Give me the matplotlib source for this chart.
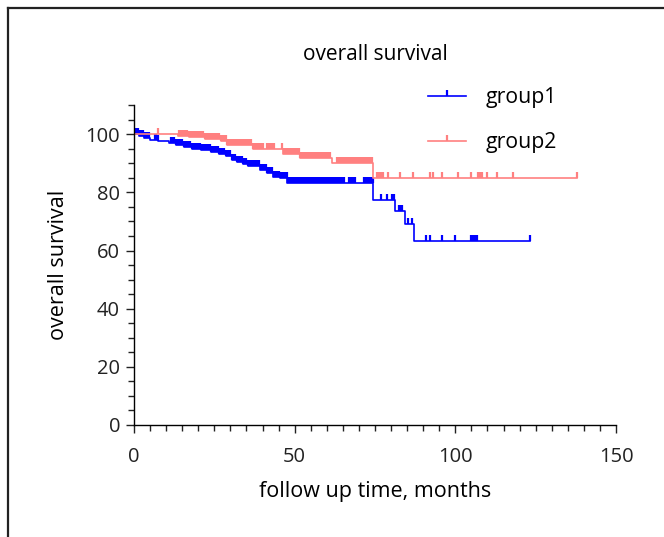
import numpy as np
import matplotlib.pyplot as plt
from matplotlib.lines import Line2D

plt.rcParams['font.family'] = ['Open Sans', 'DejaVu Sans']

# group1 (blue): event times (months) and survival (%) after each event
g1_times = [0, 1.5, 3, 5, 7.5, 11, 13, 15.5, 18, 21, 24, 26.5, 28.5, 30.5, 32, 34,
            35.5, 39.2, 41.4, 43.3, 45.4, 47.6, 74.5, 81.2, 84.3, 87.0]
g1_surv = [100, 99.4, 98.8, 98.2, 97.6, 96.9, 96.3, 95.7, 95.1, 94.5, 93.9, 93.2, 92.5,
           91.2, 90.5, 89.8, 89.0, 87.7, 86.6, 85.4, 84.8, 83.4, 77.4, 73.5, 69.0, 63.2]
g1_end = 123.3
g1_censor = [0.3, 0.8, 1.3, 1.8, 2.3, 2.8, 3.3, 3.8, 4.3, 4.8, 6.5, 7.0, 7.5,
             11.5, 12, 12.5, 13, 13.5, 14, 14.5, 15, 15.5, 16, 16.5, 17, 17.5, 18, 18.5,
             19, 19.5, 20, 20.5, 21, 21.5, 22, 22.5, 23, 23.5, 24, 24.5, 25, 25.5, 26,
             26.5, 27, 27.5, 28, 28.5, 29, 29.5, 30, 30.5, 31, 31.5, 32, 32.5, 33, 33.5,
             34, 34.5, 35, 35.5, 36, 36.5, 37, 37.5, 38, 38.5, 39, 39.5, 40, 40.5, 41,
             41.5, 42, 42.5, 43, 43.5, 44, 44.5, 45, 45.5, 46, 46.5, 47, 47.5, 48, 48.5,
             49, 49.5, 50, 50.5, 51, 51.5, 52, 52.5, 53, 53.5, 54, 54.5, 55, 55.5, 56,
             56.5, 57, 57.5, 58, 58.5, 59, 59.5, 60, 60.5, 61, 61.5, 62, 62.5, 63, 63.5,
             64, 64.5, 65, 65.4, 66.8, 67.3, 67.8, 68.3, 68.8, 71.5, 72, 72.5, 73, 73.5,
             74, 74.3, 76.9, 78.7, 80.3, 80.8, 82.5, 83.0, 83.5, 85.3, 86.5, 90.9, 92.1,
             95.9, 99.9, 104.9, 105.4, 105.8, 106.3, 106.8, 123.3]

# group2 (pink)
g2_times = [0, 13.7, 17, 22, 27, 29, 37, 46.5, 51.7, 61.5, 74.5]
g2_surv = [100, 99.4, 99.0, 98.4, 97.6, 96.4, 95.0, 93.1, 92.0, 90.2, 85.0]
g2_end = 138
g2_censor = [7.5, 14, 14.5, 15, 15.5, 16, 16.5, 17, 17.5, 18, 18.5, 19, 19.5, 20,
             20.5, 21, 21.5, 22, 22.5, 23, 23.5, 24, 24.5, 25, 25.5, 26, 26.5, 27, 27.5,
             28, 28.5, 29, 29.5, 30, 30.5, 31, 31.5, 32, 32.5, 33, 33.5, 34, 34.5, 35,
             35.5, 36, 36.5, 37, 37.5, 38, 38.5, 39, 39.5, 40, 41.5, 42, 42.5, 43, 43.5,
             46.2, 46.7, 47.2, 47.7, 48.2, 48.7, 49.2, 49.7, 50.2, 50.7, 51.2, 51.7, 52.2,
             52.7, 53.2, 53.7, 54.2, 54.7, 55.2, 55.7, 56.2, 56.7, 57.2, 57.7, 58.2, 58.7,
             59.2, 59.7, 60.2, 60.7, 61.1, 63.3, 63.8, 64.3, 64.8, 65.3, 65.8, 66.3, 66.8,
             67.3, 67.8, 68.3, 68.8, 69.3, 69.8, 70.3, 70.8, 71.3, 71.8, 72.3, 72.8, 73.3,
             73.8, 74.2, 75.6, 76.1, 76.5, 77.0, 77.5, 79, 82.8, 86.8, 92.1, 93, 95.9,
             100.8, 104.9, 107, 107.6, 108.3, 109.9, 113, 118, 137.9]

tick_marker = [(0, 0), (0, 1)]

fig = plt.figure(figsize=(6.64, 5.37), dpi=100)
ax = fig.add_axes([0.2018, 0.2086, 0.7259, 0.5955])


def km(times, surv, end, censor, color):
    xs = list(times) + [end]
    ys = list(surv) + [surv[-1]]
    ax.step(xs, ys, where='post', color=color, lw=1.2)
    idx = np.searchsorted(times, censor, side='right') - 1
    cy = np.array(surv)[idx]
    ax.plot(censor, cy, linestyle='none', marker=tick_marker, markersize=8,
            markeredgewidth=1.6, color=color)
    return Line2D([], [], color=color, lw=1.2, marker=tick_marker, markersize=8,
                  markeredgewidth=1.6)


h1 = km(g1_times, g1_surv, g1_end, g1_censor, '#0000ff')
h2 = km(g2_times, g2_surv, g2_end, g2_censor, '#ff8080')

ax.set_xlim(0, 150)
ax.set_ylim(0, 110)
ax.set_xticks([0, 50, 100, 150])
ax.set_xticks(np.arange(0, 151, 5), minor=True)
ax.set_yticks([0, 20, 40, 60, 80, 100])
ax.set_yticks(np.arange(0, 111, 5), minor=True)
for s in ['top', 'right']:
    ax.spines[s].set_visible(False)
for s in ['left', 'bottom']:
    ax.spines[s].set_linewidth(1.0)
ax.tick_params(which='major', length=6, width=1.0, labelsize=14.5, colors='#222222')
ax.tick_params(which='minor', length=4, width=1.0, colors='#222222')
ax.tick_params(axis='x', which='major', pad=10)
ax.tick_params(axis='y', which='major', pad=4)

ax.set_xlabel('follow up time, months', fontsize=15.5, labelpad=10)
ax.set_ylabel('overall survival', fontsize=15.5, labelpad=12)
fig.text(0.5648, 1 - 55 / 537, 'overall survival', ha='center', va='center', fontsize=15)

fig.legend([h1, h2], ['group1', 'group2'], loc='upper left',
           bbox_to_anchor=(428 / 664, 1 - 87 / 537), frameon=False, fontsize=15.3,
           numpoints=1, handlelength=1.8, handletextpad=0.9, labelspacing=1.15,
           borderpad=0, borderaxespad=0)

# outer frame
fig.add_artist(Line2D([8 / 664, 8 / 664], [0, 1 - 8 / 537], color='#222222', lw=1.6,
                      transform=fig.transFigure))
fig.add_artist(Line2D([8 / 664, 1], [1 - 8 / 537, 1 - 8 / 537], color='#222222', lw=1.6,
                      transform=fig.transFigure))

fig.savefig('out.png', dpi=100)
